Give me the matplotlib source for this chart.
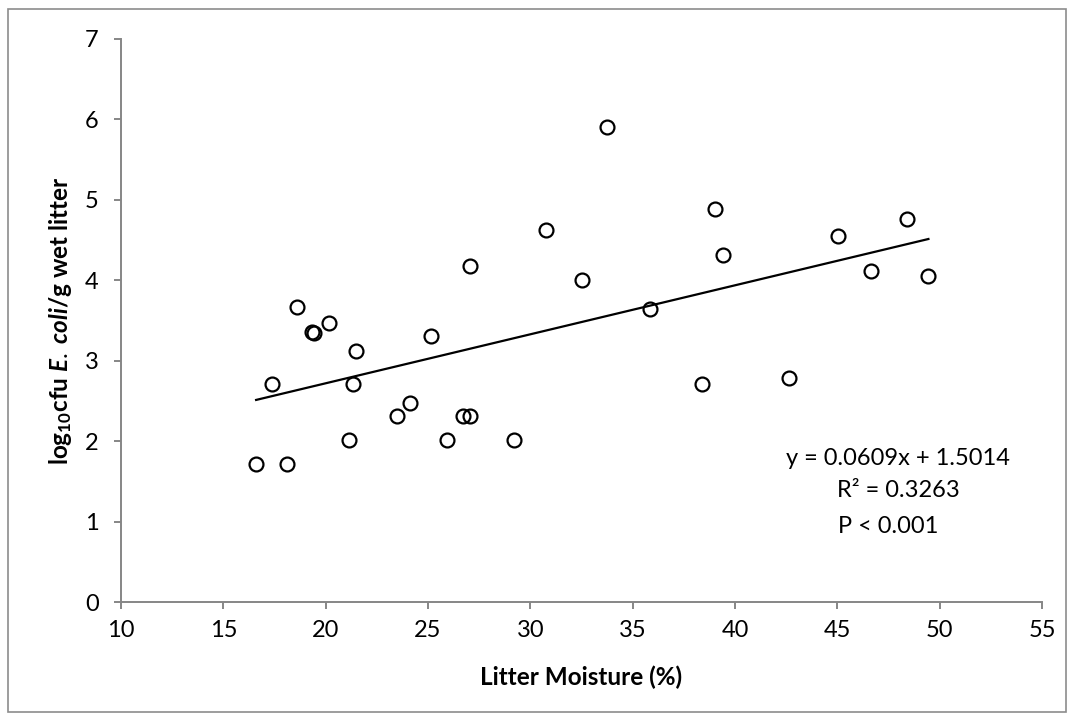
import matplotlib
matplotlib.use("Agg")
import matplotlib.pyplot as plt
from matplotlib.patches import Rectangle
import numpy as np

plt.rcParams['font.family'] = ['Lato', 'DejaVu Sans']
plt.rcParams['mathtext.fontset'] = 'custom'
plt.rcParams['mathtext.rm'] = 'Lato'
plt.rcParams['mathtext.bf'] = 'Lato:bold'
plt.rcParams['mathtext.it'] = 'Lato:italic:bold'

# litter moisture (%) and log10 cfu E. coli / g wet litter
moisture = [16.6, 18.1, 17.4, 18.6, 19.35, 19.45, 20.15, 21.5, 21.35, 21.15,
            23.5, 24.1, 25.15, 25.95, 26.7, 27.05, 29.2, 27.05, 30.75, 32.5,
            33.75, 35.85, 39.0, 39.4, 38.4, 42.65, 45.05, 46.65, 48.4, 49.45]
log_ecoli = [1.71, 1.71, 2.71, 3.67, 3.36, 3.35, 3.47, 3.12, 2.71, 2.01,
             2.31, 2.48, 3.31, 2.01, 2.31, 2.31, 2.01, 4.18, 4.63, 4.00,
             5.91, 3.64, 4.89, 4.31, 2.71, 2.79, 4.55, 4.12, 4.76, 4.05]

# trendline as printed on the chart
slope = 0.0609
intercept = 1.5014
r2_text = "R² = 0.3263"
p_text = "P < 0.001"

xticks = [10, 15, 20, 25, 30, 35, 40, 45, 50, 55]
yticks = [0, 1, 2, 3, 4, 5, 6, 7]

fig = plt.figure(figsize=(10.75, 7.21), dpi=100)
ax = fig.add_axes([0.1126, 0.165, 0.8567, 0.781])

axis_grey = '#868686'

ax.plot(moisture, log_ecoli, linestyle='none', marker='o', markersize=10,
        markerfacecolor='none', markeredgecolor='black', markeredgewidth=1.6,
        zorder=3)

xfit = np.array([min(moisture), max(moisture)])
ax.plot(xfit, slope * xfit + intercept, color='black', linewidth=1.6, zorder=2)

ax.set_xlim(10, 55)
ax.set_ylim(0, 7)
ax.set_xticks(xticks)
ax.set_yticks(yticks)

for side in ['top', 'right']:
    ax.spines[side].set_visible(False)
for side in ['left', 'bottom']:
    ax.spines[side].set_color(axis_grey)
    ax.spines[side].set_linewidth(1.4)
ax.tick_params(axis='both', direction='out', length=5, width=1.4,
               color=axis_grey, labelsize=17, labelcolor='black')
ax.tick_params(axis='x', pad=8)
ax.tick_params(axis='y', pad=11)

ax.set_xlabel('Litter Moisture (%)', fontsize=17.5, fontweight='bold')
ax.set_ylabel(r'log$_{\mathbf{10}}$cfu $\mathit{E.}$ $\mathit{coli}$/g wet litter',
              fontsize=17.5, fontweight='bold')
ax.xaxis.set_label_coords(0.5, -0.133)
ax.xaxis.label.set_va('center')
ax.yaxis.set_label_coords(-0.066, 0.5)
ax.yaxis.label.set_va('center')

ax.text(47.95, 1.78, f"y = {slope}x + {intercept}", fontsize=17,
        ha='center', va='center')
ax.text(45.0, 1.39, r2_text, fontsize=17, ha='left', va='center')
ax.text(45.05, 0.945, p_text, fontsize=17, ha='left', va='center')

# outer chart border
fig.patches.append(Rectangle((8 / 1075, 9 / 721), 1058 / 1075, 703 / 721,
                             transform=fig.transFigure, fill=False,
                             edgecolor='#8c8c8c', linewidth=1.2))

fig.savefig('out.png', dpi=100)
